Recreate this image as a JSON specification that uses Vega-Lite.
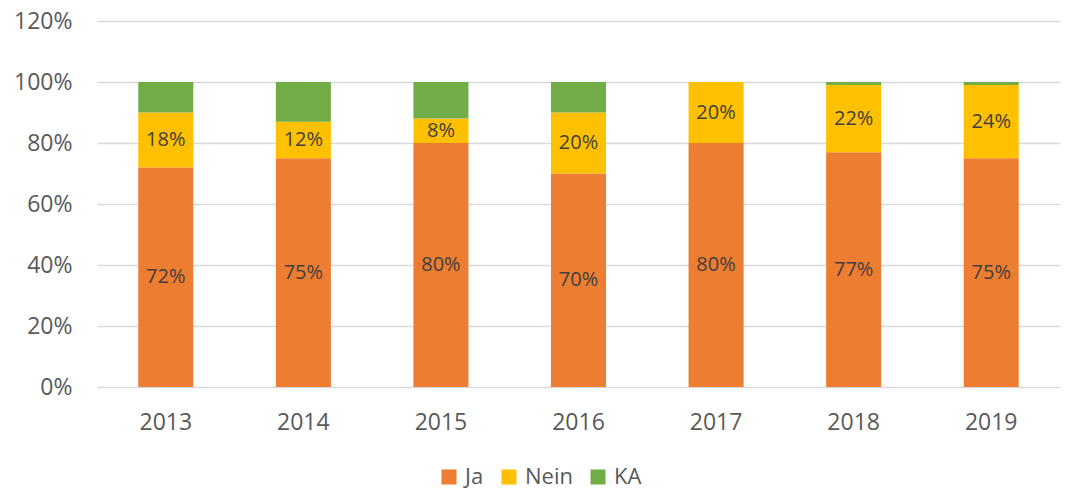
{
  "$schema": "https://vega.github.io/schema/vega-lite/v6.json",
  "width": 963,
  "height": 366,
  "autosize": {"type": "none"},
  "padding": {"left": 97, "top": 21, "right": 7, "bottom": 102},
  "background": "white",
  "config": {"view": {"stroke": null}, "font": "Open Sans"},
  "data": {"values": [
    {"year": "2013", "cat": "Ja", "v": 0.72},
    {"year": "2013", "cat": "Nein", "v": 0.18},
    {"year": "2013", "cat": "KA", "v": 0.10},
    {"year": "2014", "cat": "Ja", "v": 0.75},
    {"year": "2014", "cat": "Nein", "v": 0.12},
    {"year": "2014", "cat": "KA", "v": 0.13},
    {"year": "2015", "cat": "Ja", "v": 0.80},
    {"year": "2015", "cat": "Nein", "v": 0.08},
    {"year": "2015", "cat": "KA", "v": 0.12},
    {"year": "2016", "cat": "Ja", "v": 0.70},
    {"year": "2016", "cat": "Nein", "v": 0.20},
    {"year": "2016", "cat": "KA", "v": 0.10},
    {"year": "2017", "cat": "Ja", "v": 0.80},
    {"year": "2017", "cat": "Nein", "v": 0.20},
    {"year": "2017", "cat": "KA", "v": 0.0},
    {"year": "2018", "cat": "Ja", "v": 0.77},
    {"year": "2018", "cat": "Nein", "v": 0.22},
    {"year": "2018", "cat": "KA", "v": 0.01},
    {"year": "2019", "cat": "Ja", "v": 0.75},
    {"year": "2019", "cat": "Nein", "v": 0.24},
    {"year": "2019", "cat": "KA", "v": 0.01}
  ]},
  "transform": [
    {"calculate": "indexof(['Ja','Nein','KA'], datum.cat)", "as": "k"},
    {"stack": "v", "groupby": ["year"], "sort": [{"field": "k", "order": "ascending"}], "as": ["v0", "v1"]},
    {"calculate": "(datum.v0 + datum.v1) / 2", "as": "mid"}
  ],
  "encoding": {
    "x": {
      "field": "year", "type": "nominal", "title": null,
      "scale": {"paddingInner": 0.6, "paddingOuter": 0.3},
      "axis": {"labelAngle": 0, "ticks": false, "domain": false, "labelFontSize": 23, "labelColor": "#595959", "labelPadding": 24}
    }
  },
  "layer": [
    {
      "mark": {"type": "bar"},
      "encoding": {
        "y": {
          "field": "v0", "type": "quantitative", "title": null,
          "scale": {"domain": [0, 1.2], "nice": false},
          "axis": {"values": [0, 0.2, 0.4, 0.6, 0.8, 1.0, 1.2], "format": ".0%", "ticks": false, "domain": false, "gridColor": "#d9d9d9", "gridWidth": 1.5, "labelFontSize": 23, "labelColor": "#595959", "labelPadding": 25}
        },
        "y2": {"field": "v1"},
        "color": {
          "field": "cat", "type": "nominal",
          "scale": {"domain": ["Ja", "Nein", "KA"], "range": ["#ED7D31", "#FFC000", "#70AD47"]},
          "legend": {"orient": "none", "legendX": 341, "legendY": 445, "direction": "horizontal", "title": null, "symbolType": "square", "symbolSize": 225, "symbolStrokeWidth": 0, "labelFontSize": 22, "labelColor": "#595959", "columnPadding": 14, "labelOffset": 5}
        }
      }
    },
    {
      "transform": [{"filter": "datum.cat != 'KA'"}],
      "mark": {"type": "text", "fontSize": 20, "color": "#404040"},
      "encoding": {
        "y": {"field": "mid", "type": "quantitative"},
        "text": {"field": "v", "format": ".0%"}
      }
    }
  ]
}
